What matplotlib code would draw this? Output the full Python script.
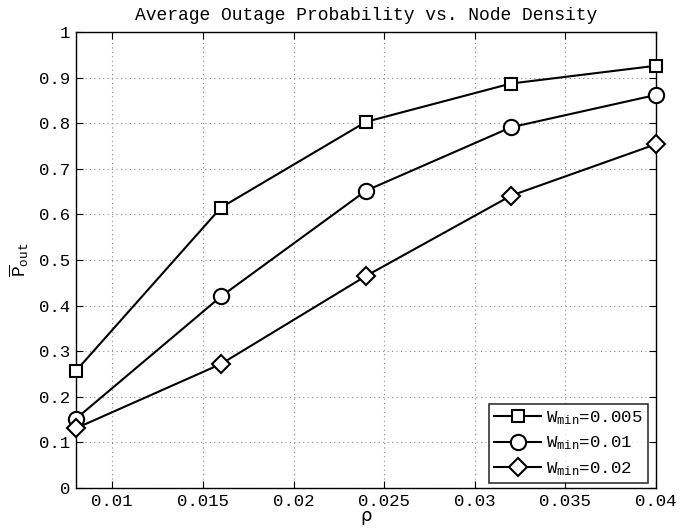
import matplotlib
matplotlib.use("Agg")
import matplotlib.pyplot as plt

rho = [0.008, 0.016, 0.024, 0.032, 0.04]
p_w005 = [0.257, 0.615, 0.803, 0.887, 0.926]
p_w01 = [0.152, 0.420, 0.652, 0.791, 0.862]
p_w02 = [0.131, 0.272, 0.465, 0.641, 0.754]
labels = [r"$\mathrm{W}_{\mathrm{min}}$=0.005",
          r"$\mathrm{W}_{\mathrm{min}}$=0.01",
          r"$\mathrm{W}_{\mathrm{min}}$=0.02"]
xticks = [0.01, 0.015, 0.02, 0.025, 0.03, 0.035, 0.04]
xticklabels = ["0.01", "0.015", "0.02", "0.025", "0.03", "0.035", "0.04"]
yticks = [0, 0.1, 0.2, 0.3, 0.4, 0.5, 0.6, 0.7, 0.8, 0.9, 1]
yticklabels = ["0", "0.1", "0.2", "0.3", "0.4", "0.5", "0.6", "0.7", "0.8", "0.9", "1"]

plt.rcParams['font.family'] = ['Liberation Mono', 'DejaVu Sans']
plt.rcParams['mathtext.fontset'] = 'custom'
plt.rcParams['mathtext.rm'] = 'Liberation Mono'
plt.rcParams['mathtext.it'] = 'Liberation Mono'

W, H = 696, 529
fig = plt.figure(figsize=(W / 100, H / 100), dpi=100)
ax = fig.add_axes([76 / W, (H - 488) / H, 580 / W, 456 / H])

mk = dict(color='black', lw=1.5, markerfacecolor='white', markeredgecolor='black',
          markeredgewidth=1.5, clip_on=False, zorder=3)
ax.plot(rho, p_w005, marker='s', markersize=9, label=labels[0], **mk)
ax.plot(rho, p_w01, marker='o', markersize=11, label=labels[1], **mk)
ax.plot(rho, p_w02, marker='D', markersize=9, label=labels[2], **mk)

ax.set_xlim(0.008, 0.04)
ax.set_ylim(0, 1)
ax.set_xticks(xticks)
ax.set_xticklabels(xticklabels)
ax.set_yticks(yticks)
ax.set_yticklabels(yticklabels)
ax.tick_params(direction='in', top=True, right=True, labelsize=12.5, length=5, width=0.8, pad=4)
ax.grid(True, linestyle=(0, (1, 3)), color='#888888', lw=0.8)
for s in ax.spines.values():
    s.set_linewidth(1.0)

ax.set_title("Average Outage Probability vs. Node Density", fontsize=13, pad=9)
ax.set_xlabel("ρ", fontsize=13, family='DejaVu Sans', labelpad=-1)
ax.set_ylabel(r"$\overline{\mathrm{P}}_{\mathrm{out}}$", fontsize=13, labelpad=6)

leg = ax.legend(loc='lower right', bbox_to_anchor=(648 / W, (H - 483) / H),
                bbox_transform=fig.transFigure, fontsize=12.5, frameon=True, fancybox=False,
                edgecolor='black', borderaxespad=0, handlelength=2.7,
                labelspacing=0.45, borderpad=0.3, handletextpad=0.3)
leg.get_frame().set_linewidth(1.2)

fig.savefig("out.png", dpi=100)
